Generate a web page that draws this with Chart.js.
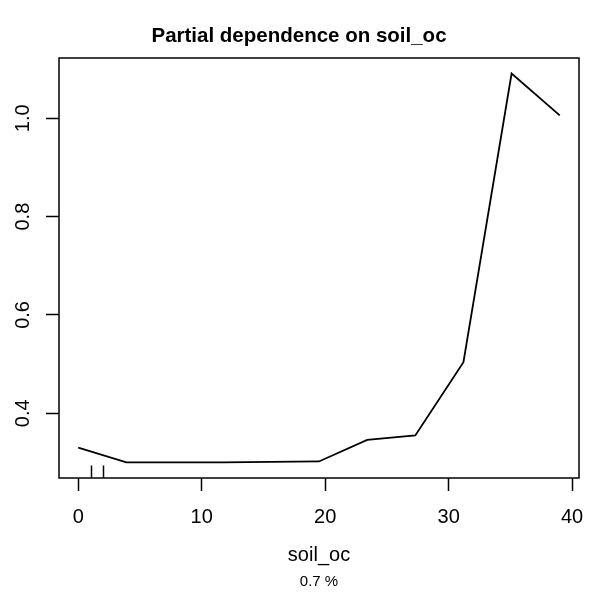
<!DOCTYPE html>
<html>
<head>
<meta charset="utf-8">
<script src="https://cdn.jsdelivr.net/npm/chart.js@4/dist/chart.umd.min.js"></script>
<style>
  html, body { margin: 0; padding: 0; background: #fff; }
</style>
</head>
<body>
<canvas id="pd"></canvas>
<script>
// partial dependence values
const soilOc = [0, 3.9, 7.8, 11.7, 15.6, 19.5, 23.4, 27.3, 31.2, 35.1, 39.0];
const partialDep = [0.330, 0.300, 0.300, 0.300, 0.301, 0.302, 0.346, 0.355, 0.504, 1.091, 1.006];
const rugValues = [1, 2];
const xTicks = [0, 10, 20, 30, 40];
const yTicks = [0.4, 0.6, 0.8, 1.0];
const yTickLabels = ['0.4', '0.6', '0.8', '1.0'];
const mainTitle = 'Partial dependence on soil_oc';
const xTitle = 'soil_oc';
const subTitle = '0.7 %';

const FONT = '"Liberation Sans", Arial, Helvetica, sans-serif';

// R style axis range: data range plus 4%
function extend(vals) {
    const lo = Math.min(...vals), hi = Math.max(...vals);
    const pad = (hi - lo) * 0.04;
    return [lo - pad, hi + pad];
}
const [xMin, xMax] = extend(soilOc);
const [yMin, yMax] = extend(partialDep);

const rBase = {
    id: 'rBase',
    afterDraw(chart) {
        const { ctx, chartArea: a, scales: { x, y } } = chart;
        ctx.save();
        ctx.strokeStyle = '#000';
        ctx.lineWidth = 1.5;
        ctx.strokeRect(a.left, a.top, a.right - a.left, a.bottom - a.top);

        // rug marks
        const rugLen = (a.bottom - a.top) * 0.03;
        ctx.beginPath();
        rugValues.forEach(v => {
            const px = Math.round(x.getPixelForValue(v)) + 0.5;
            ctx.moveTo(px, a.bottom);
            ctx.lineTo(px, a.bottom - rugLen);
        });
        ctx.stroke();

        ctx.fillStyle = '#000';
        ctx.textAlign = 'center';
        ctx.textBaseline = 'middle';
        ctx.font = '20px ' + FONT;
        xTicks.forEach(v => ctx.fillText(String(v), x.getPixelForValue(v), a.bottom + 39));
        yTicks.forEach((v, i) => {
            ctx.save();
            ctx.translate(a.left - 36, y.getPixelForValue(v));
            ctx.rotate(-Math.PI / 2);
            ctx.fillText(yTickLabels[i], 0, 0);
            ctx.restore();
        });

        const cx = (a.left + a.right) / 2;
        ctx.fillText(xTitle, cx, a.bottom + 77);
        ctx.font = '15px ' + FONT;
        ctx.fillText(subTitle, cx, a.bottom + 104);

        ctx.font = 'bold 20.5px ' + FONT;
        ctx.fillText(mainTitle, chart.width / 2, 36);
        ctx.restore();
    }
};

const canvas = document.getElementById('pd');
canvas.width = 598;
canvas.height = 595;
const pdChart = new Chart(canvas.getContext('2d'), {
    type: 'scatter',
    data: {
        datasets: [{
            data: soilOc.map((v, i) => ({ x: v, y: partialDep[i] })),
            showLine: true,
            borderColor: '#000',
            borderWidth: 1.8,
            pointRadius: 0,
            tension: 0
        }]
    },
    options: {
        responsive: false,
        animation: false,
        events: [],
        layout: { padding: { left: 46, right: 19, top: 58, bottom: 104 } },
        plugins: { legend: { display: false }, tooltip: { enabled: false } },
        scales: {
            x: {
                type: 'linear',
                min: xMin,
                max: xMax,
                afterBuildTicks: s => { s.ticks = xTicks.map(v => ({ value: v })); },
                ticks: { display: false },
                grid: { drawOnChartArea: false, tickLength: 13, tickColor: '#000', tickWidth: 1.5 },
                border: { display: false }
            },
            y: {
                type: 'linear',
                min: yMin,
                max: yMax,
                afterBuildTicks: s => { s.ticks = yTicks.map(v => ({ value: v })); },
                ticks: { display: false },
                grid: { drawOnChartArea: false, tickLength: 13, tickColor: '#000', tickWidth: 1.5 },
                border: { display: false }
            }
        }
    },
    plugins: [rBase]
});
</script>
</body>
</html>
